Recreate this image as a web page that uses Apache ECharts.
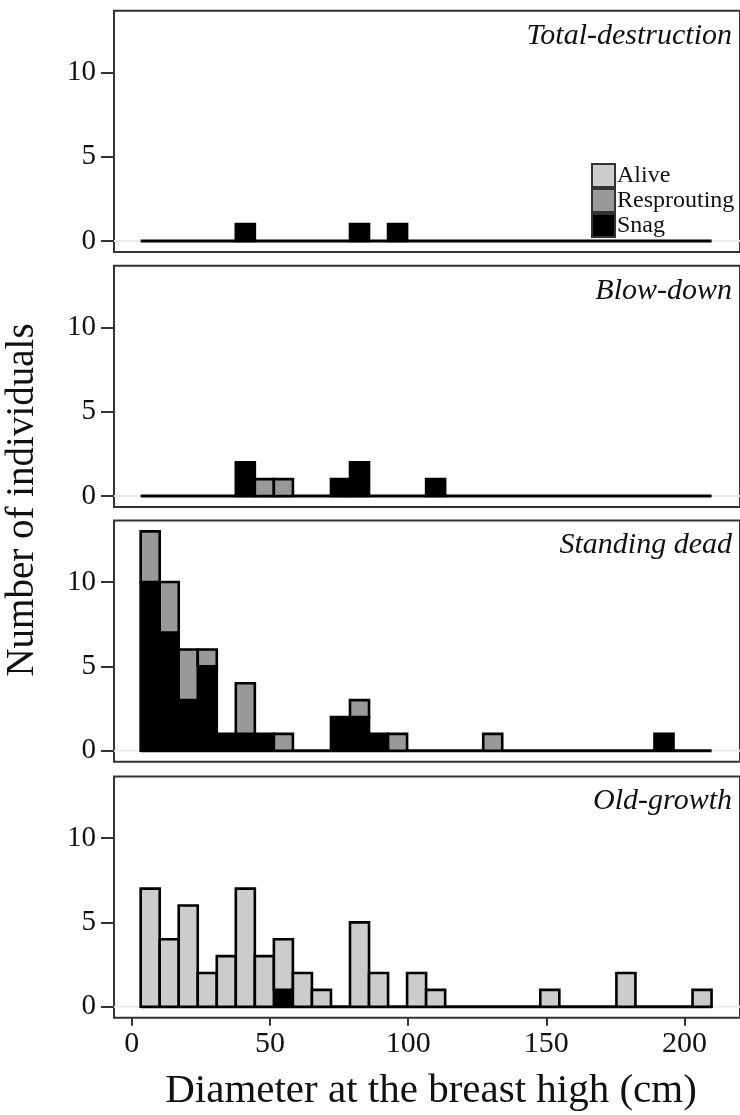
<!DOCTYPE html>
<html>
<head>
<meta charset="utf-8">
<title>DBH histograms</title>
<script src="https://cdn.jsdelivr.net/npm/echarts@6/dist/echarts.min.js"></script>
<style>
html, body { margin: 0; padding: 0; background: #fff; }
#chart { width: 740px; height: 1115px; }
</style>
</head>
<body>
<div id="chart"></div>
<script>
// histogram bins (cm), 30 bins of equal width
const binStart = 3.2
const binWidth = 6.887

const panels = ['Total-destruction', 'Blow-down', 'Standing dead', 'Old-growth']
const groups = ['Alive', 'Resprouting', 'Snag']
const xTicks = [0, 50, 100, 150, 200]
const yTicks = [0, 5, 10]

// counts per bin
const totalAlive       = [0,0,0,0,0,0,0,0,0,0, 0,0,0,0,0,0,0,0,0,0, 0,0,0,0,0,0,0,0,0,0]
const totalResprouting = [0,0,0,0,0,0,0,0,0,0, 0,0,0,0,0,0,0,0,0,0, 0,0,0,0,0,0,0,0,0,0]
const totalSnag        = [0,0,0,0,0,1,0,0,0,0, 0,1,0,1,0,0,0,0,0,0, 0,0,0,0,0,0,0,0,0,0]

const blowAlive        = [0,0,0,0,0,0,0,0,0,0, 0,0,0,0,0,0,0,0,0,0, 0,0,0,0,0,0,0,0,0,0]
const blowResprouting  = [0,0,0,0,0,0,1,1,0,0, 0,0,0,0,0,0,0,0,0,0, 0,0,0,0,0,0,0,0,0,0]
const blowSnag         = [0,0,0,0,0,2,0,0,0,0, 1,2,0,0,0,1,0,0,0,0, 0,0,0,0,0,0,0,0,0,0]

const standAlive       = [0,0,0,0,0,0,0,0,0,0, 0,0,0,0,0,0,0,0,0,0, 0,0,0,0,0,0,0,0,0,0]
const standResprouting = [3,3,3,1,0,3,0,1,0,0, 0,1,0,1,0,0,0,0,1,0, 0,0,0,0,0,0,0,0,0,0]
const standSnag        = [10,7,3,5,1,1,1,0,0,0, 2,2,1,0,0,0,0,0,0,0, 0,0,0,0,0,0,0,1,0,0]

const oldAlive         = [7,4,6,2,3,7,3,3,2,1, 0,5,2,0,2,1,0,0,0,0, 0,1,0,0,0,2,0,0,0,1]
const oldResprouting   = [0,0,0,0,0,0,0,0,0,0, 0,0,0,0,0,0,0,0,0,0, 0,0,0,0,0,0,0,0,0,0]
const oldSnag          = [0,0,0,0,0,0,0,1,0,0, 0,0,0,0,0,0,0,0,0,0, 0,0,0,0,0,0,0,0,0,0]

const counts = [
    { Alive: totalAlive, Resprouting: totalResprouting, Snag: totalSnag },
    { Alive: blowAlive, Resprouting: blowResprouting, Snag: blowSnag },
    { Alive: standAlive, Resprouting: standResprouting, Snag: standSnag },
    { Alive: oldAlive, Resprouting: oldResprouting, Snag: oldSnag },
]

const colors = { Alive: '#cccccc', Resprouting: '#999999', Snag: '#000000' }
const font = "'Liberation Serif', 'DejaVu Serif', serif"

// layout
const gridLeft = 114
const gridWidth = 632
const gridHeight = 241.3
const gridTops = [10.7, 265.7, 520.4, 776.4]
const xMin = -6.45
const xMax = 220.1
const yMin = -0.65
const yMax = 13.65

const renderBar = function(params, api) {
    const p0 = api.coord([api.value(0), api.value(3)])
    const p1 = api.coord([api.value(1), api.value(2)])
    return {
        type: 'rect',
        shape: { x: p0[0], y: p0[1], width: p1[0] - p0[0], height: p1[1] - p0[1] },
        style: { fill: api.visual('color'), stroke: '#000', lineWidth: 2.6 },
    }
}

const buildSeries = function() {
    const series = []
    counts.forEach((c, k) => {
        const n = c.Alive.length
        // light line at zero across the panel
        series.push({
            type: 'line', xAxisIndex: k, yAxisIndex: k, silent: true, symbol: 'none', z: 1,
            data: [[xMin, 0], [xMax, 0]],
            lineStyle: { color: '#ececec', width: 2 },
        })
        // outline of empty bins
        series.push({
            type: 'line', xAxisIndex: k, yAxisIndex: k, silent: true, symbol: 'none', z: 2,
            data: [[binStart, 0], [binStart + n * binWidth, 0]],
            lineStyle: { color: '#000', width: 3 },
        })
        const base = new Array(n).fill(0)
        ;['Snag', 'Resprouting', 'Alive'].forEach(g => {
            const data = []
            c[g].forEach((v, i) => {
                if (v > 0) {
                    const x0 = binStart + i * binWidth
                    data.push([x0, x0 + binWidth, base[i], base[i] + v])
                    base[i] += v
                }
            })
            series.push({
                name: g, type: 'custom', xAxisIndex: k, yAxisIndex: k, z: 3,
                renderItem: renderBar,
                itemStyle: { color: colors[g], borderColor: '#333', borderWidth: 1.5 },
                encode: { x: [0, 1], y: [2, 3] },
                data: data,
            })
        })
    })
    return series
}

const buildOption = function() {
    const grid = []
    const xAxis = []
    const yAxis = []
    const graphic = []
    panels.forEach((p, k) => {
        const last = k === panels.length - 1
        grid.push({
            left: gridLeft, top: gridTops[k], width: gridWidth, height: gridHeight,
            show: true, borderColor: '#333', borderWidth: 2, backgroundColor: '#fff',
        })
        xAxis.push({
            type: 'value', gridIndex: k, min: xMin, max: xMax,
            axisLine: { show: false, onZero: false }, splitLine: { show: false },
            axisTick: { show: last, customValues: xTicks, length: 8, lineStyle: { color: '#333', width: 2 } },
            axisLabel: { show: last, customValues: xTicks, fontSize: 30, color: '#111', margin: 11, fontFamily: font },
        })
        yAxis.push({
            type: 'value', gridIndex: k, min: yMin, max: yMax,
            axisLine: { show: false, onZero: false }, splitLine: { show: false },
            axisTick: { show: true, customValues: yTicks, length: 13, lineStyle: { color: '#333', width: 2 } },
            axisLabel: { customValues: yTicks, fontSize: 29, color: '#111', margin: 18, fontFamily: font },
        })
        graphic.push({
            type: 'text', right: 8, top: gridTops[k] + 10, z: 10,
            style: { text: p, font: 'italic 30px ' + font, fill: '#111' },
        })
    })
    graphic.push({
        type: 'text', x: 431, y: 1071,
        style: { text: 'Diameter at the breast high (cm)', font: '41px ' + font, fill: '#111', align: 'center', verticalAlign: 'top' },
    })
    graphic.push({
        type: 'text', x: 3, y: 500, rotation: Math.PI / 2,
        style: { text: 'Number of individuals', font: '39px ' + font, fill: '#111', align: 'center', verticalAlign: 'top' },
    })
    return {
        animation: false,
        backgroundColor: '#fff',
        grid: grid,
        xAxis: xAxis,
        yAxis: yAxis,
        legend: {
            data: groups, orient: 'vertical', left: 591, top: 163, padding: 0,
            itemWidth: 23, itemHeight: 23, itemGap: 0, icon: 'rect', selectedMode: false,
            textStyle: { fontSize: 24, lineHeight: 23, fontFamily: font, color: '#111', padding: [0, 0, 0, -3] },
        },
        graphic: graphic,
        series: buildSeries(),
    }
}

const __main = function() {
    const chart = echarts.init(document.getElementById('chart'))
    chart.setOption(buildOption())
}

__main()
</script>
</body>
</html>
